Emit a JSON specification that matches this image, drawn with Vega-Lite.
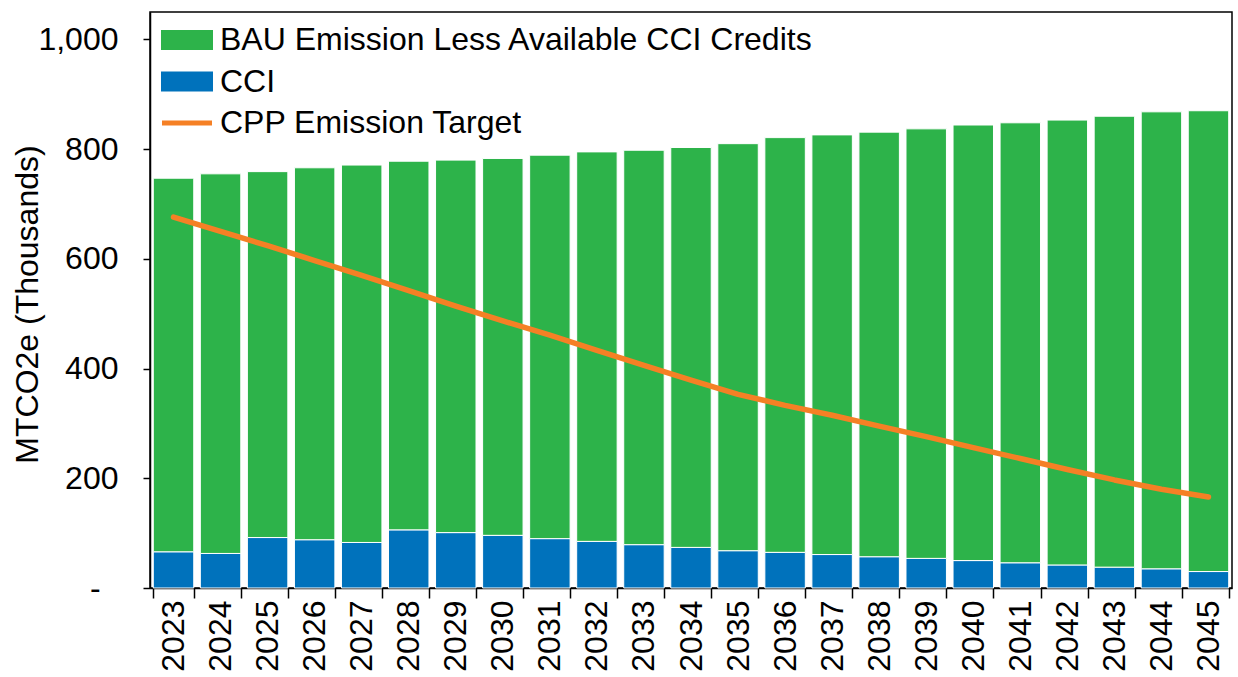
{
  "$schema": "https://vega.github.io/schema/vega-lite/v6.json",
  "width": 1082,
  "height": 576,
  "autosize": {"type": "none"},
  "padding": {"left": 150, "top": 12, "right": 6, "bottom": 89},
  "background": "white",
  "config": {
    "font": "Liberation Sans",
    "view": {"stroke": "black", "strokeWidth": 1.5},
    "axis": {"grid": false, "domainColor": "black", "domainWidth": 1.5, "tickColor": "black", "tickWidth": 1.5, "labelColor": "black", "titleColor": "black", "labelFont": "Liberation Sans", "titleFont": "Liberation Sans"},
    "legend": {"labelFont": "Liberation Sans", "labelColor": "black"}
  },
  "datasets": {
    "bars": [
      {"year": 2023, "series": "CCI", "value": 66}, {"year": 2023, "series": "BAU Emission Less Available CCI Credits", "value": 681},
      {"year": 2024, "series": "CCI", "value": 63}, {"year": 2024, "series": "BAU Emission Less Available CCI Credits", "value": 692},
      {"year": 2025, "series": "CCI", "value": 92}, {"year": 2025, "series": "BAU Emission Less Available CCI Credits", "value": 667},
      {"year": 2026, "series": "CCI", "value": 88}, {"year": 2026, "series": "BAU Emission Less Available CCI Credits", "value": 678},
      {"year": 2027, "series": "CCI", "value": 83}, {"year": 2027, "series": "BAU Emission Less Available CCI Credits", "value": 688},
      {"year": 2028, "series": "CCI", "value": 106}, {"year": 2028, "series": "BAU Emission Less Available CCI Credits", "value": 672},
      {"year": 2029, "series": "CCI", "value": 101}, {"year": 2029, "series": "BAU Emission Less Available CCI Credits", "value": 679},
      {"year": 2030, "series": "CCI", "value": 96}, {"year": 2030, "series": "BAU Emission Less Available CCI Credits", "value": 687},
      {"year": 2031, "series": "CCI", "value": 90}, {"year": 2031, "series": "BAU Emission Less Available CCI Credits", "value": 699},
      {"year": 2032, "series": "CCI", "value": 85}, {"year": 2032, "series": "BAU Emission Less Available CCI Credits", "value": 710},
      {"year": 2033, "series": "CCI", "value": 79}, {"year": 2033, "series": "BAU Emission Less Available CCI Credits", "value": 719},
      {"year": 2034, "series": "CCI", "value": 74}, {"year": 2034, "series": "BAU Emission Less Available CCI Credits", "value": 729},
      {"year": 2035, "series": "CCI", "value": 68}, {"year": 2035, "series": "BAU Emission Less Available CCI Credits", "value": 742},
      {"year": 2036, "series": "CCI", "value": 65}, {"year": 2036, "series": "BAU Emission Less Available CCI Credits", "value": 756},
      {"year": 2037, "series": "CCI", "value": 61}, {"year": 2037, "series": "BAU Emission Less Available CCI Credits", "value": 765},
      {"year": 2038, "series": "CCI", "value": 57}, {"year": 2038, "series": "BAU Emission Less Available CCI Credits", "value": 774},
      {"year": 2039, "series": "CCI", "value": 54}, {"year": 2039, "series": "BAU Emission Less Available CCI Credits", "value": 783},
      {"year": 2040, "series": "CCI", "value": 50}, {"year": 2040, "series": "BAU Emission Less Available CCI Credits", "value": 794},
      {"year": 2041, "series": "CCI", "value": 46}, {"year": 2041, "series": "BAU Emission Less Available CCI Credits", "value": 802},
      {"year": 2042, "series": "CCI", "value": 42}, {"year": 2042, "series": "BAU Emission Less Available CCI Credits", "value": 811},
      {"year": 2043, "series": "CCI", "value": 38}, {"year": 2043, "series": "BAU Emission Less Available CCI Credits", "value": 822},
      {"year": 2044, "series": "CCI", "value": 35}, {"year": 2044, "series": "BAU Emission Less Available CCI Credits", "value": 833},
      {"year": 2045, "series": "CCI", "value": 30}, {"year": 2045, "series": "BAU Emission Less Available CCI Credits", "value": 840}
    ],
    "target": [
      {"year": 2023, "series": "CPP Emission Target", "value": 676},
      {"year": 2024, "series": "CPP Emission Target", "value": 650},
      {"year": 2025, "series": "CPP Emission Target", "value": 624},
      {"year": 2026, "series": "CPP Emission Target", "value": 597},
      {"year": 2027, "series": "CPP Emission Target", "value": 570},
      {"year": 2028, "series": "CPP Emission Target", "value": 542},
      {"year": 2029, "series": "CPP Emission Target", "value": 514},
      {"year": 2030, "series": "CPP Emission Target", "value": 487},
      {"year": 2031, "series": "CPP Emission Target", "value": 461},
      {"year": 2032, "series": "CPP Emission Target", "value": 433},
      {"year": 2033, "series": "CPP Emission Target", "value": 406},
      {"year": 2034, "series": "CPP Emission Target", "value": 379},
      {"year": 2035, "series": "CPP Emission Target", "value": 353},
      {"year": 2036, "series": "CPP Emission Target", "value": 333},
      {"year": 2037, "series": "CPP Emission Target", "value": 315},
      {"year": 2038, "series": "CPP Emission Target", "value": 295},
      {"year": 2039, "series": "CPP Emission Target", "value": 276},
      {"year": 2040, "series": "CPP Emission Target", "value": 256},
      {"year": 2041, "series": "CPP Emission Target", "value": 236},
      {"year": 2042, "series": "CPP Emission Target", "value": 216},
      {"year": 2043, "series": "CPP Emission Target", "value": 197},
      {"year": 2044, "series": "CPP Emission Target", "value": 180},
      {"year": 2045, "series": "CPP Emission Target", "value": 166}
    ]
  },
  "layer": [
    {
      "data": {"name": "bars"},
      "mark": {"type": "bar", "stroke": "white", "strokeWidth": 1},
      "encoding": {
        "x": {
          "field": "year", "type": "ordinal",
          "scale": {"paddingInner": 0.14, "paddingOuter": 0.07},
          "axis": {"title": null, "labelAngle": 270, "labelAlign": "right", "labelBaseline": "middle", "labelFontSize": 32, "labelPadding": 2, "tickSize": 10, "tickBand": "extent"}
        },
        "y": {
          "field": "value", "type": "quantitative", "stack": "zero",
          "scale": {"domain": [0, 1050], "nice": false},
          "axis": {
            "title": "MTCO2e (Thousands)", "titleFontSize": 32, "titleFontWeight": "normal",
            "titleAngle": 270, "titleX": -123, "titleY": 292, "titleAlign": "center", "titleBaseline": "middle",
            "values": [0, 200, 400, 600, 800, 1000],
            "labelExpr": "datum.value == 0 ? '-\u2007\u200b' : format(datum.value, ',')",
            "labelFontSize": 32, "labelPadding": 25, "tickSize": 7
          }
        },
        "color": {
          "field": "series", "type": "nominal",
          "scale": {"domain": ["BAU Emission Less Available CCI Credits", "CCI"], "range": ["#2DB34A", "#0072BC"]},
          "legend": {
            "title": null, "orient": "none", "legendX": 21, "legendY": 12, "padding": 0,
            "symbolType": "M-2.6,-1H2.6V1H-2.6Z", "symbolSize": 400, "symbolStrokeWidth": 0,
            "labelFontSize": 32, "labelOffset": 17, "rowPadding": 9.5, "labelLimit": 1000
          }
        },
        "order": {"field": "series", "sort": "descending"}
      }
    },
    {
      "data": {"name": "target"},
      "mark": {"type": "line", "strokeWidth": 5.5, "strokeCap": "round", "strokeJoin": "round"},
      "encoding": {
        "x": {"field": "year", "type": "ordinal"},
        "y": {"field": "value", "type": "quantitative"},
        "stroke": {
          "field": "series", "type": "nominal",
          "scale": {"domain": ["CPP Emission Target"], "range": ["#F58025"]},
          "legend": {
            "title": null, "orient": "none", "legendX": 21, "legendY": 95, "padding": 0,
            "symbolType": "M-2.5,0H2.5", "symbolSize": 400, "symbolStrokeWidth": 5,
            "labelFontSize": 32, "labelOffset": 17, "labelLimit": 1000
          }
        }
      }
    }
  ]
}
